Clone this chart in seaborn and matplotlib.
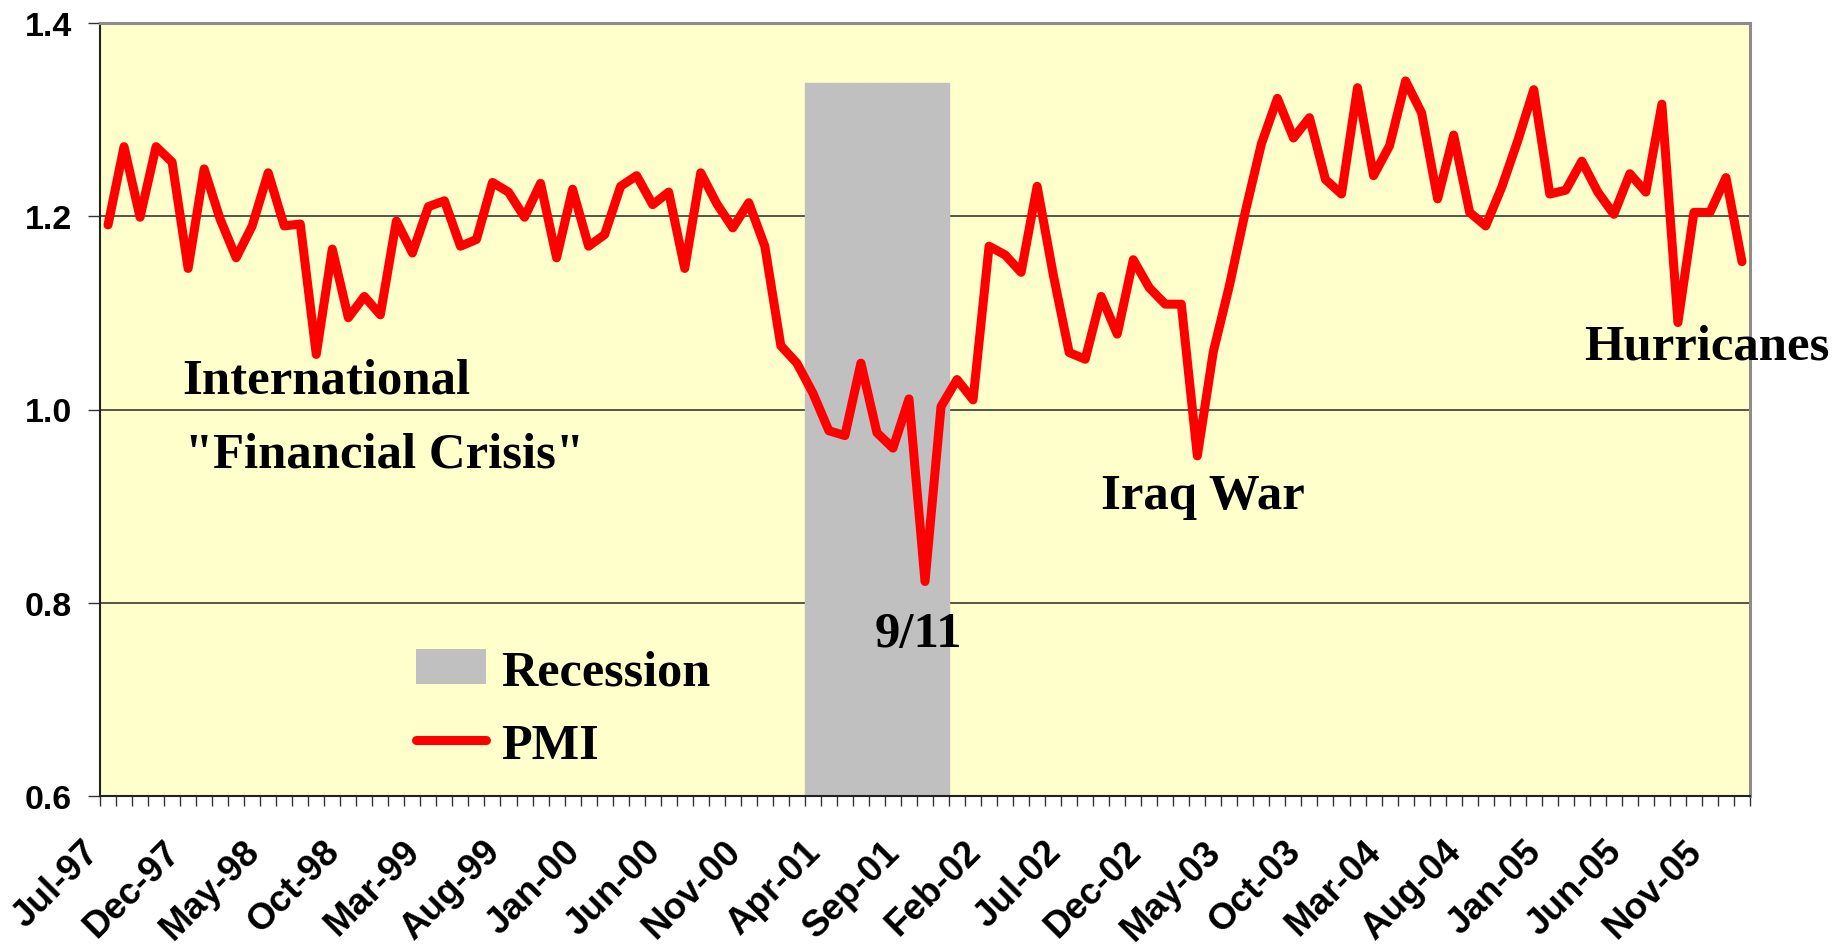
import numpy as np
import pandas as pd
import seaborn as sns
import matplotlib.pyplot as plt
import matplotlib.transforms as mtransforms
from matplotlib.patches import Patch
from matplotlib.lines import Line2D

# monthly PMI ratio, Jul-97 .. Jan-06
months = pd.date_range("1997-07-01", periods=103, freq="MS").strftime("%b-%y").tolist()
pmi = [1.191, 1.272, 1.199, 1.272, 1.256, 1.146, 1.249, 1.197, 1.157, 1.190,
       1.245, 1.190, 1.192, 1.057, 1.166, 1.095, 1.117, 1.098, 1.195, 1.162,
       1.210, 1.216, 1.169, 1.176, 1.235, 1.225, 1.199, 1.234, 1.157, 1.228,
       1.169, 1.181, 1.231, 1.242, 1.212, 1.225, 1.146, 1.245, 1.213, 1.188,
       1.214, 1.169, 1.066, 1.048, 1.017, 0.978, 0.973, 1.048, 0.976, 0.960,
       1.011, 0.822, 1.003, 1.031, 1.010, 1.169, 1.160, 1.142, 1.231, 1.140,
       1.059, 1.052, 1.117, 1.078, 1.155, 1.126, 1.109, 1.109, 0.952, 1.060,
       1.128, 1.205, 1.275, 1.322, 1.281, 1.302, 1.238, 1.223, 1.333, 1.242,
       1.273, 1.340, 1.307, 1.218, 1.284, 1.204, 1.190, 1.230, 1.278, 1.331,
       1.223, 1.227, 1.257, 1.225, 1.202, 1.244, 1.225, 1.316, 1.090, 1.204,
       1.204, 1.240, 1.153]

recession_months = ["Mar-01", "Apr-01", "May-01", "Jun-01", "Jul-01",
                    "Aug-01", "Sep-01", "Oct-01", "Nov-01"]
recession_level = [1.338] * len(recession_months)

tick_labels = ["Jul-97", "Dec-97", "May-98", "Oct-98", "Mar-99", "Aug-99",
               "Jan-00", "Jun-00", "Nov-00", "Apr-01", "Sep-01", "Feb-02",
               "Jul-02", "Dec-02", "May-03", "Oct-03", "Mar-04", "Aug-04",
               "Jan-05", "Jun-05", "Nov-05"]

events = [("International", "Oct-98", 1.018),
          ('"Financial Crisis"', "Oct-98", 0.941),
          ("9/11", "Sep-01", 0.755),
          ("Iraq War", "Mar-03", 0.898),
          ("Hurricanes", "Sep-05", 1.053)]
event_dx = {"International": -10.34, '"Financial Crisis"': -10.22,
            "9/11": -2.13, "Iraq War": -6.03, "Hurricanes": -5.87}

df = pd.DataFrame({"month": months, "pmi": pmi})
df["pos"] = np.arange(len(df))
rec = pd.DataFrame({"month": recession_months, "level": recession_level})

sns.set_theme(style="white")
plt.rcParams["font.family"] = ["Liberation Sans", "DejaVu Sans"]
plt.rcParams["font.weight"] = "bold"
plt.rcParams["text.color"] = "black"
plt.rcParams["xtick.labelsize"] = 26.5
plt.rcParams["ytick.labelsize"] = 24.5
plt.rcParams["xtick.color"] = "black"
plt.rcParams["ytick.color"] = "black"

fig = plt.figure(figsize=(18.45, 9.45), dpi=100)
ax = fig.add_axes([100 / 1845, 1 - 797 / 945, 1650 / 1845, 773 / 945])
ax.set_facecolor("#FFFFCC")

sns.barplot(data=rec, x="month", y="level", order=months, color="#C0C0C0",
            width=1.0, saturation=1, errorbar=None, ax=ax, label="Recession",
            edgecolor="#C0C0C0", linewidth=1)
sns.lineplot(data=df, x="pos", y="pmi", color="#FF0000", linewidth=6.5,
             ax=ax, label="PMI", solid_joinstyle="round", solid_capstyle="round")

ax.set_xlim(-0.5, len(months) - 0.5)
ax.set_ylim(0.6, 1.4)
ax.set_xlabel("")
ax.set_ylabel("")

# labels at category centres, tick marks at boundaries
ax.set_xticks([months.index(m) for m in tick_labels])
ax.set_xticklabels(tick_labels, rotation=45, ha="right", va="top",
                   rotation_mode="anchor", fontsize=26.5, fontweight="bold")
ax.set_xticks(np.arange(-0.5, len(months)), minor=True)
ax.tick_params(axis="x", which="major", length=0, pad=27, labelsize=26.5)
ax.tick_params(axis="x", which="minor", length=7.2, width=1, color="#333333",
               direction="out", bottom=True)
ax.set_yticks([0.6, 0.8, 1.0, 1.2, 1.4])
ax.set_yticklabels(["0.6", "0.8", "1.0", "1.2", "1.4"], fontsize=24.5, fontweight="bold")
ax.tick_params(axis="y", length=8.6, width=1, color="#333333", direction="out",
               left=True, pad=11.5, labelsize=24.5)
shift = mtransforms.ScaledTranslation(-0.26, 0, fig.dpi_scale_trans)
for lab in ax.get_xticklabels():
    lab.set_fontsize(26.5)
    lab.set_transform(lab.get_transform() + shift)

ax.set_axisbelow(True)
ax.yaxis.grid(True, color="#3a3a30", linewidth=1.2)
ax.xaxis.grid(False)
for side in ["left", "bottom"]:
    ax.spines[side].set_color("#222222")
    ax.spines[side].set_linewidth(1.5)
for side in ["top", "right"]:
    ax.spines[side].set_color("#8c8c8c")
    ax.spines[side].set_linewidth(2.2)

serif = {"family": ["Liberation Serif", "DejaVu Serif"], "weight": "bold", "size": 36.5}
for text, month, y in events:
    ax.text(months.index(month) + event_dx[text], y, text, ha="left", va="baseline",
            fontdict=serif, color="black", clip_on=False, zorder=5)

handles = [Patch(facecolor="#C0C0C0", edgecolor="none"),
           Line2D([0], [0], color="#FF0000", linewidth=6.5, solid_capstyle="round")]
leg = ax.legend(handles, ["Recession", "PMI"], loc="upper left",
                bbox_to_anchor=(416 / 1845, 1 - 650 / 945), bbox_transform=fig.transFigure,
                frameon=False, prop={"family": "Liberation Serif", "weight": "bold", "size": 36.2},
                handlelength=1.39, handleheight=0.7, handletextpad=0.3,
                labelspacing=0.54, borderpad=0, borderaxespad=0)
for t in leg.get_texts():
    t.set_color("black")

fig.savefig("out.png", dpi=100)
